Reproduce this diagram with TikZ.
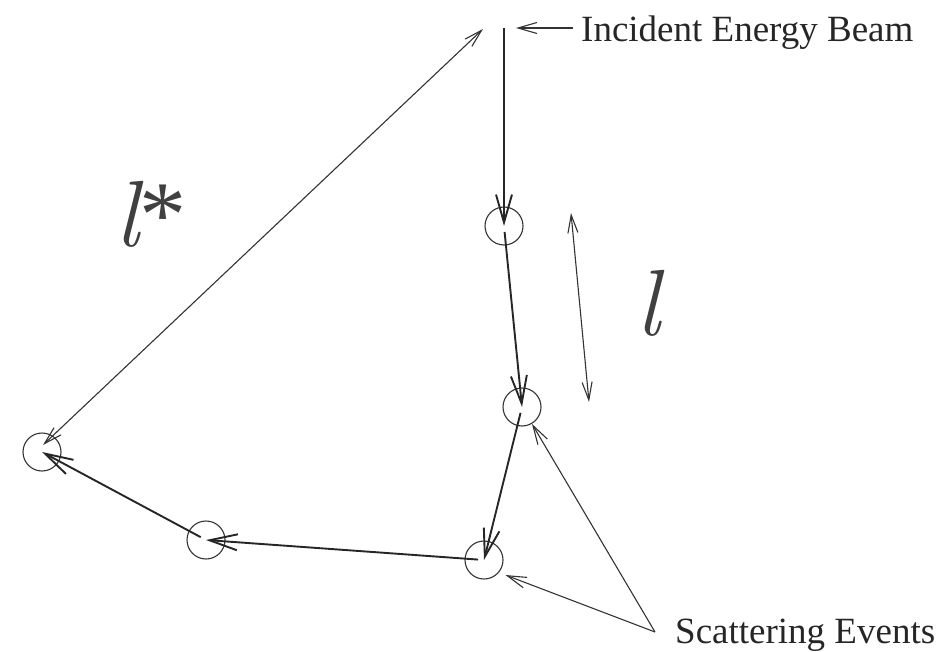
\documentclass[tikz,border=0pt]{standalone}
\usepackage{fontspec}
\setmainfont{Liberation Serif}
\newfontfamily\lmfont{Latin Modern Roman}
\usetikzlibrary{arrows.meta}

\begin{document}
\begin{tikzpicture}[x=1pt,y=-1pt,
  event/.style={circle,draw,black!80,line width=1.1pt,minimum size=38pt,inner sep=0pt},
  hop/.style={-{Straight Barb[length=28pt,width=16pt]},line width=1.9pt,black!85},
  pointer/.style={-{Straight Barb[length=19pt,width=11pt]},line width=1.1pt,black!80},
  lenarrow/.style={{Straight Barb[length=18pt,width=10pt]}-{Straight Barb[length=18pt,width=10pt]},
                   line width=1.1pt,black!80},
  notetext/.style={inner sep=0pt,font=\fontsize{37}{45}\selectfont,text=black!85},
  pathlen/.style={inner sep=0pt,font=\fontsize{94}{110}\selectfont,text=black!75}]
\useasboundingbox (0,0) rectangle (947,652);

% scattering events along the walk
\coordinate (beam) at (504,28);
\node[event] (ev1) at (504,226) {};
\node[event] (ev2) at (522,407) {};
\node[event] (ev3) at (484,560) {};
\node[event] (ev4) at (206,540) {};
\node[event] (ev5) at (42,452) {};

\draw[hop] (beam)--(ev1.center);
\draw[hop,shorten <=6pt] (ev1.center)--(ev2.center);
\draw[hop,shorten <=6pt] (ev2.center)--(ev3.center);
\draw[hop,shorten <=6pt] (ev3.center)--(ev4.center);
\draw[hop,shorten <=6pt] (ev4.center)--(ev5.center);

% lengths
\coordinate (lsA) at (43,445);
\coordinate (lsB) at (483,29);
\draw[lenarrow] (lsA)--(lsB);
\node[pathlen] (lstar) at (151,214) {{\lmfont\itshape l}*};

\coordinate (lA) at (571,213);
\coordinate (lB) at (589,402);
\draw[lenarrow] (lA)--(lB);
\node[pathlen] (lmfp) at (648,303) {\lmfont\itshape l};

% labels
\node[notetext,anchor=base west] (inc) at (581,42) {Incident Energy Beam};
\coordinate (inctip) at (516,28);
\draw[pointer,shorten <=8pt] (inc.west |- inctip)--(inctip);

\node[notetext,anchor=base west] (scat) at (675,643) {Scattering Events};
\coordinate (fork) at (655,632);
\draw[pointer] (fork)--(ev2);
\draw[pointer,shorten >=7pt] (fork)--(ev3.-40);
\end{tikzpicture}
\end{document}
